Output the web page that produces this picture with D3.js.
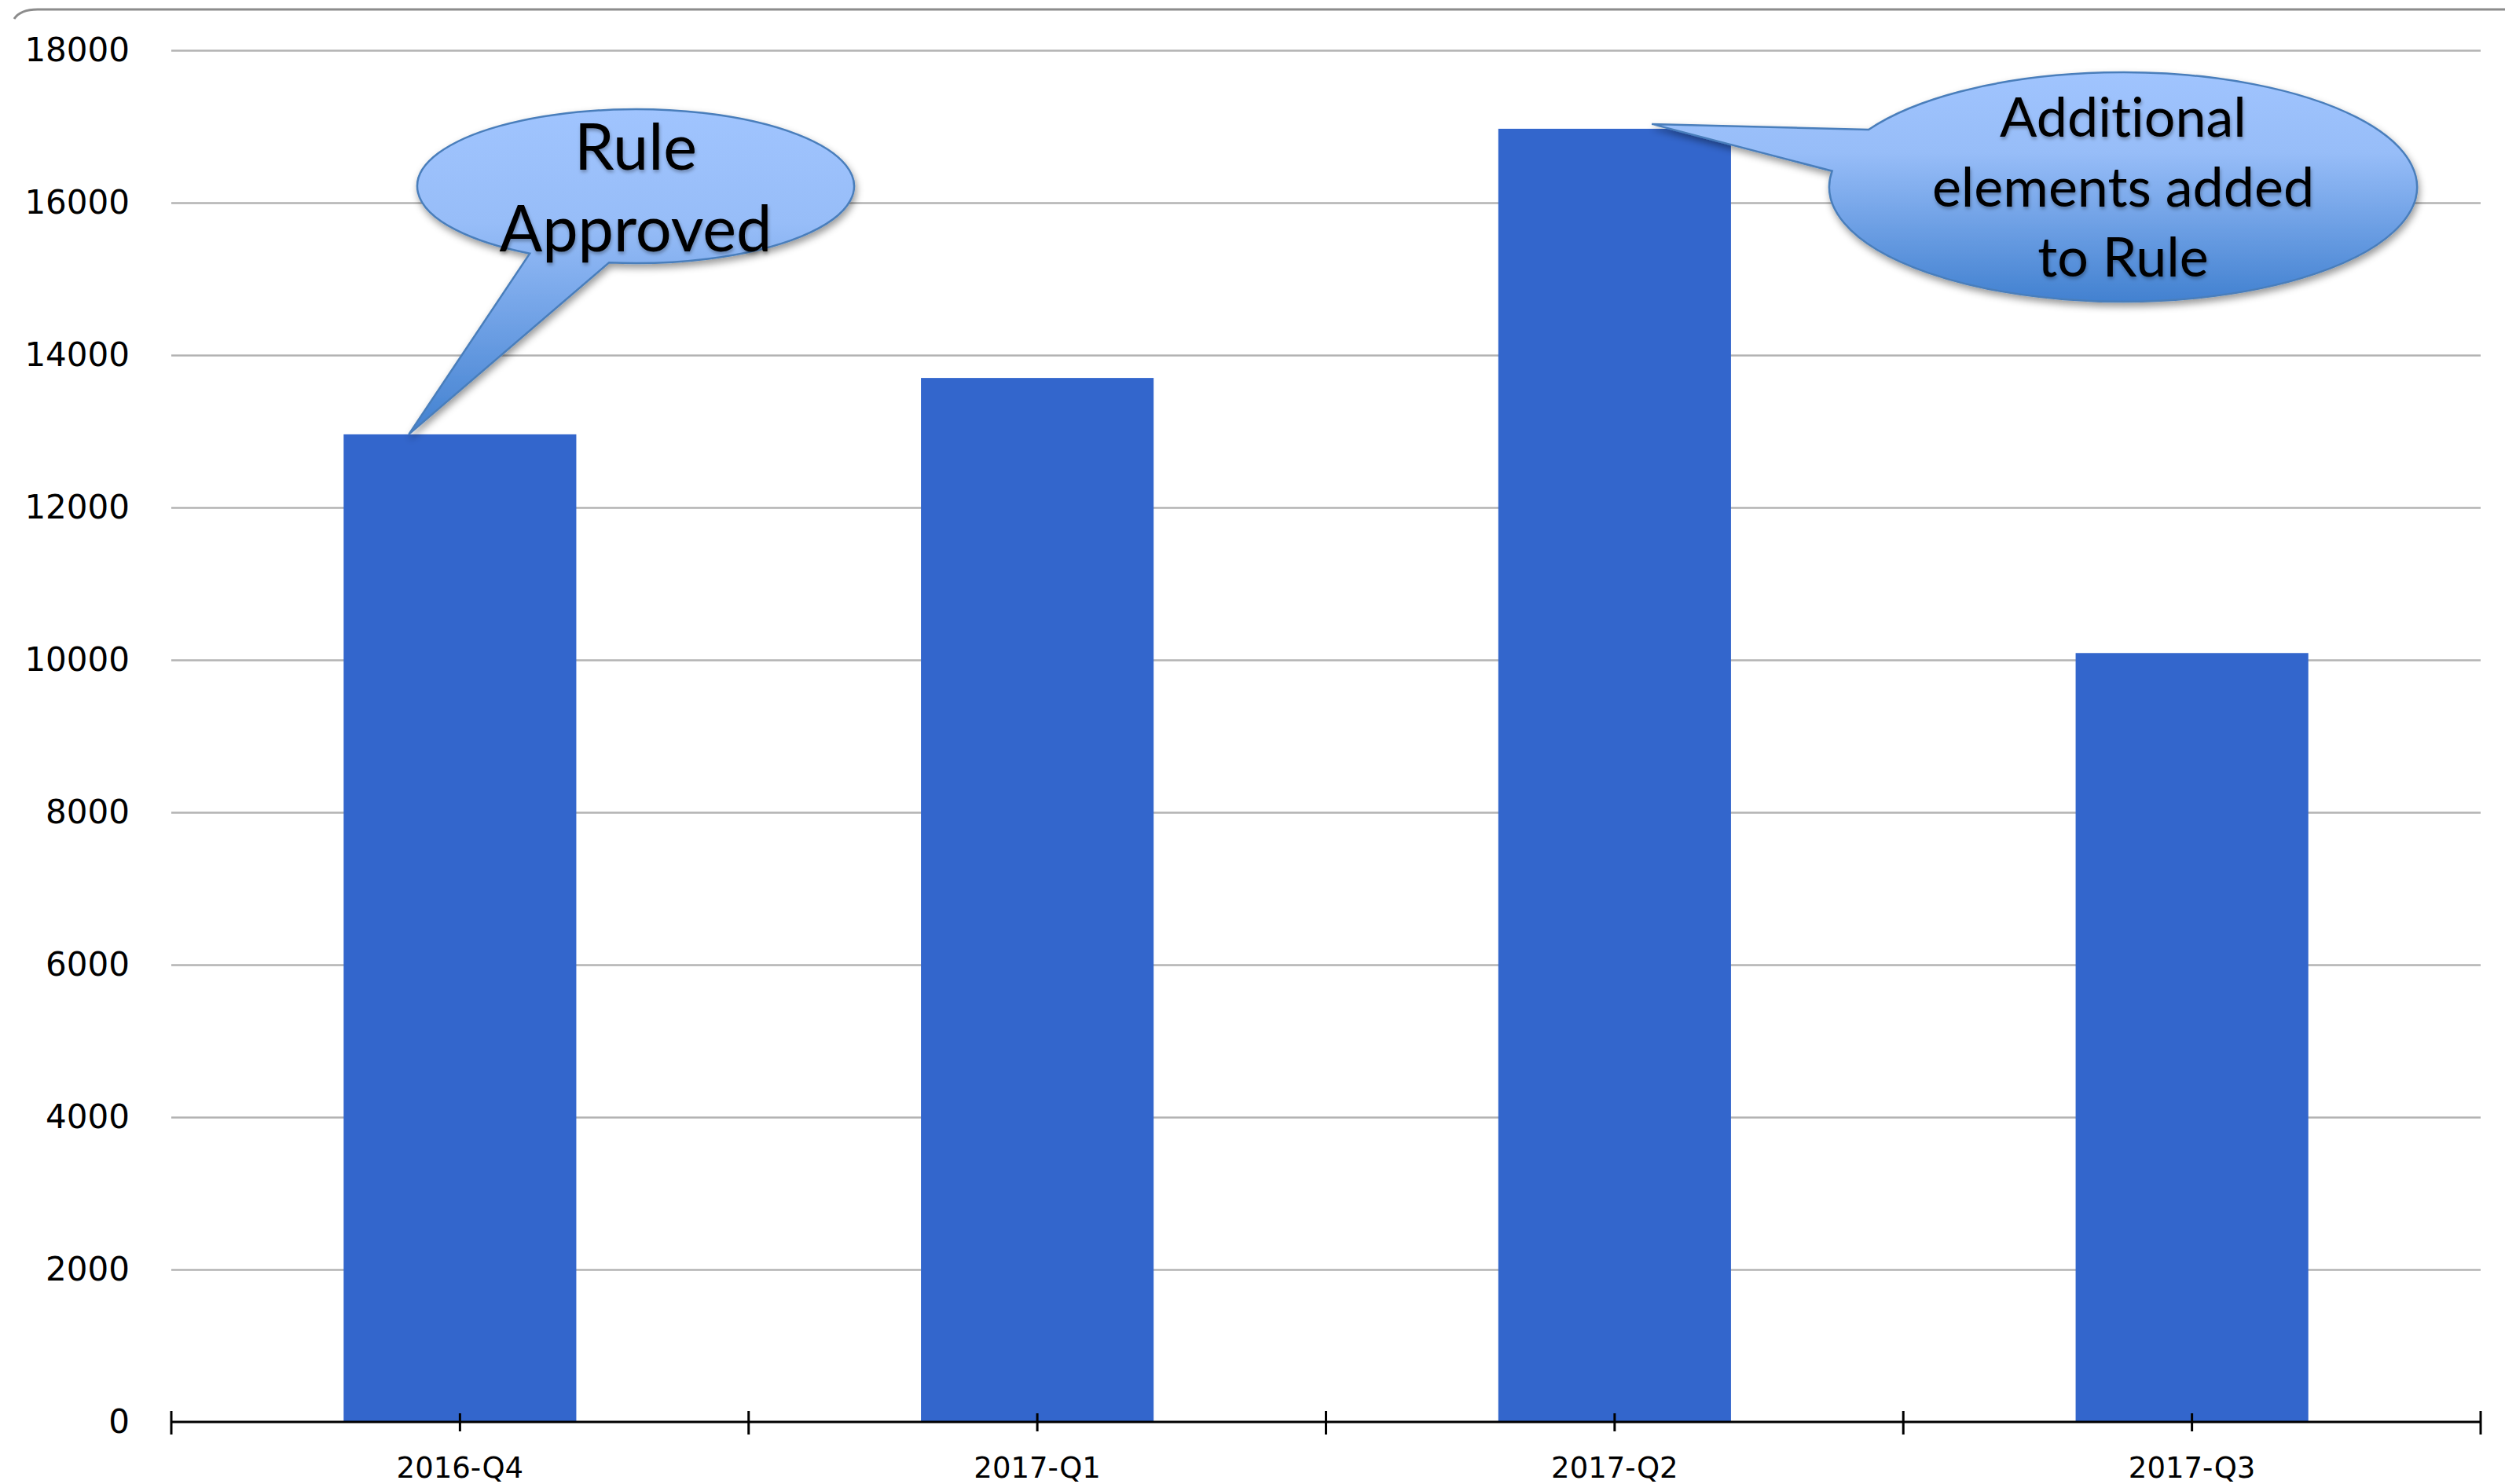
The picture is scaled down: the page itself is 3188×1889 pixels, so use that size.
<!DOCTYPE html>
<html>
<head>
<meta charset="utf-8">
<script src="https://cdn.jsdelivr.net/npm/d3@7"></script>
<style>
  html, body { margin: 0; padding: 0; background: #fff; }
  svg { display: block; }
  .balloon-text { font-variant-ligatures: none; font-feature-settings: "liga" 0, "clig" 0; }
</style>
</head>
<body>
<svg id="chart" width="3188" height="1889"></svg>
<script>
// Quarterly counts
const categories = ["2016-Q4", "2017-Q1", "2017-Q2", "2017-Q3"];
const values = [12960, 13700, 16970, 10090];
const yTicks = [0, 2000, 4000, 6000, 8000, 10000, 12000, 14000, 16000, 18000];

// Annotation balloons: text lines and the quarter each one points at
const calloutLines = [["Rule", "Approved"], ["Additional", "elements added", "to Rule"]];
const calloutTargets = ["2016-Q4", "2017-Q2"];

const W = 3188, H = 1889;
const plot = { left: 218, right: 3157, top: 64, bottom: 1810 };

const svg = d3.select("#chart");

const x = d3.scaleBand()
  .domain(categories)
  .range([plot.left, plot.right])
  .paddingInner(0.597)
  .paddingOuter(0.2985);

const y = d3.scaleLinear()
  .domain([0, 18000])
  .range([plot.bottom, plot.top]);

// defs: balloon gradient and shadows
const defs = svg.append("defs");
const grad = defs.append("linearGradient")
  .attr("id", "balloonFill")
  .attr("x1", 0).attr("y1", 0).attr("x2", 0).attr("y2", 1);
grad.append("stop").attr("offset", "0%").attr("stop-color", "#a0c4fe");
grad.append("stop").attr("offset", "35%").attr("stop-color", "#97bdf8");
grad.append("stop").attr("offset", "100%").attr("stop-color", "#4281d0");

const shadow = defs.append("filter").attr("id", "balloonShadow")
  .attr("x", "-10%").attr("y", "-10%").attr("width", "130%").attr("height", "130%");
shadow.append("feDropShadow")
  .attr("dx", 2).attr("dy", 5).attr("stdDeviation", 5)
  .attr("flood-color", "#000").attr("flood-opacity", 0.4);

const textShadow = defs.append("filter").attr("id", "textShadow")
  .attr("x", "-10%").attr("y", "-20%").attr("width", "130%").attr("height", "150%");
textShadow.append("feDropShadow")
  .attr("dx", 1).attr("dy", 3).attr("stdDeviation", 2)
  .attr("flood-color", "#000").attr("flood-opacity", 0.3);

// chart frame edge along the top
svg.append("path")
  .attr("d", `M18,24 Q26,12 48,12 H${W}`)
  .attr("fill", "none")
  .attr("stroke", "#8c8c8c")
  .attr("stroke-width", 3);

// horizontal gridlines
const grid = svg.append("g")
  .attr("transform", `translate(${plot.left},0)`)
  .call(d3.axisLeft(y)
    .tickValues(yTicks.filter(v => v > 0))
    .tickSize(-(plot.right - plot.left))
    .tickFormat(""));
grid.select(".domain").remove();
grid.selectAll(".tick line")
  .attr("stroke", "#b3b3b3")
  .attr("stroke-width", 2.5);

// y-axis labels
const yAxis = svg.append("g")
  .attr("transform", `translate(${plot.left},0)`)
  .call(d3.axisLeft(y)
    .tickValues(yTicks)
    .tickSize(0)
    .tickPadding(53)
    .tickFormat(d3.format("d")));
yAxis.select(".domain").remove();
yAxis.selectAll("text")
  .attr("font-family", "'DejaVu Sans', sans-serif")
  .attr("font-size", 42)
  .attr("fill", "#000");

// bars
svg.append("g")
  .selectAll("rect")
  .data(categories.map((c, i) => ({ c, v: values[i] })))
  .join("rect")
  .attr("x", d => x(d.c))
  .attr("y", d => y(d.v))
  .attr("width", x.bandwidth())
  .attr("height", d => y(0) - y(d.v))
  .attr("fill", "#3366cc");

// category axis
const xAxis = svg.append("g")
  .attr("transform", `translate(0,${plot.bottom})`)
  .call(d3.axisBottom(x).tickSize(0).tickPadding(45));
xAxis.select(".domain").remove();
xAxis.selectAll("text")
  .attr("font-family", "'DejaVu Sans', sans-serif")
  .attr("font-size", 37)
  .attr("fill", "#000");

svg.append("line")
  .attr("x1", plot.left).attr("x2", plot.right)
  .attr("y1", y(0)).attr("y2", y(0))
  .attr("stroke", "#000").attr("stroke-width", 3);

// boundary ticks between categories
const step = x.step();
const bounds = d3.range(categories.length + 1).map(i => plot.left + i * step);
svg.append("g").selectAll("line")
  .data(bounds)
  .join("line")
  .attr("x1", d => d).attr("x2", d => d)
  .attr("y1", y(0) - 14).attr("y2", y(0) + 16)
  .attr("stroke", "#000").attr("stroke-width", 3);

// centre ticks under each bar
svg.append("g").selectAll("line")
  .data(categories)
  .join("line")
  .attr("x1", d => x(d) + x.bandwidth() / 2)
  .attr("x2", d => x(d) + x.bandwidth() / 2)
  .attr("y1", y(0) - 11).attr("y2", y(0) + 12)
  .attr("stroke", "#000").attr("stroke-width", 3);

// balloon layout: ellipse, tail base angles (deg), tip offset, text
const balloonLayout = [
  { cx: 809, cy: 237, rx: 278, ry: 98, a0: 97, a1: 119, longSweep: 0,
    tipFrac: 0.28, tipDy: 0, fontSize: 81, baselines: [216, 320] },
  { cx: 2702, cy: 238, rx: 374, ry: 146, a0: 210, a1: 188, longSweep: 1,
    tipFrac: 0.66, tipDy: -6, fontSize: 70, baselines: [174, 263, 352] }
];

const rad = d => d * Math.PI / 180;

calloutLines.forEach((lines, i) => {
  const L = balloonLayout[i];
  const cat = calloutTargets[i];
  const v = values[categories.indexOf(cat)];
  const tipX = x(cat) + x.bandwidth() * L.tipFrac;
  const tipY = y(v) + L.tipDy;
  const p0 = [L.cx + L.rx * Math.cos(rad(L.a0)), L.cy + L.ry * Math.sin(rad(L.a0))];
  const p1 = [L.cx + L.rx * Math.cos(rad(L.a1)), L.cy + L.ry * Math.sin(rad(L.a1))];
  const d = `M${p0[0]},${p0[1]} A${L.rx},${L.ry} 0 1 ${L.longSweep} ${p1[0]},${p1[1]} L${tipX},${tipY} Z`;

  const g = svg.append("g");
  g.append("path")
    .attr("d", d)
    .attr("fill", "url(#balloonFill)")
    .attr("stroke", "#4a7ebb")
    .attr("stroke-width", 2.5)
    .attr("stroke-linejoin", "miter")
    .attr("filter", "url(#balloonShadow)");

  g.selectAll("text")
    .data(lines)
    .join("text")
    .attr("class", "balloon-text")
    .attr("x", L.cx)
    .attr("y", (t, j) => L.baselines[j])
    .attr("text-anchor", "middle")
    .attr("font-family", "Lato, 'Open Sans', sans-serif")
    .attr("font-size", L.fontSize)
    .attr("fill", "#000")
    .attr("filter", "url(#textShadow)")
    .text(t => t);
});
</script>
</body>
</html>
